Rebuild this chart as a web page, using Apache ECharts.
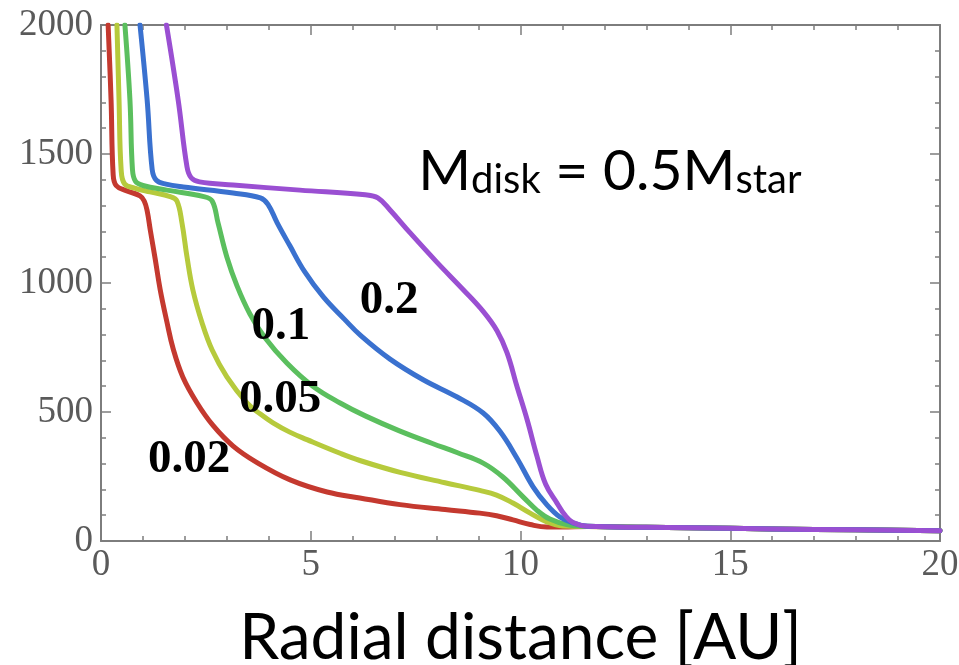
<!DOCTYPE html>
<html>
<head>
<meta charset="utf-8">
<script src="https://cdn.jsdelivr.net/npm/echarts@6/dist/echarts.min.js"></script>
<style>
html,body{margin:0;padding:0;background:#fff;}
#chart{width:959px;height:665px;}
</style>
</head>
<body>
<div id="chart"></div>
<script>
// ---- data ----
var xTicks = [0, 5, 10, 15, 20];
var yTicks = [0, 500, 1000, 1500, 2000];

var redX = [0.17, 0.24, 0.29, 0.36, 0.60, 0.93, 1.03, 1.10, 1.18, 1.29, 1.41, 1.57, 1.72, 1.95, 2.29, 2.67, 3.15, 3.72, 4.51, 5.39, 6.17, 7.13, 8.20, 9.03, 9.43, 9.82, 10.23, 10.63, 11.0, 11.6, 13, 15, 17, 20];
var redY = [2000, 1709, 1420, 1378, 1358, 1338, 1318, 1280, 1200, 1095, 975, 850, 745, 636, 535, 448, 368, 304, 237, 190, 167, 141, 122, 108, 98, 82, 64, 54, 54, 56, 53, 49, 45, 40];

var yellowX = [0.38, 0.43, 0.48, 0.56, 0.80, 1.17, 1.65, 1.81, 1.93, 2.05, 2.19, 2.41, 2.65, 3.00, 3.48, 3.80, 4.10, 4.50, 4.91, 5.70, 6.17, 7.13, 8.20, 9.03, 9.43, 9.82, 10.23, 10.63, 11.0, 11.6, 13, 15, 17, 20];
var yellowY = [2000, 1709, 1440, 1385, 1368, 1353, 1335, 1318, 1233, 1101, 973, 845, 740, 636, 535, 492, 458, 422, 393, 340, 312, 266, 226, 196, 178, 147, 108, 74, 58, 56, 53, 49, 45, 40];

var greenX = [0.57, 0.69, 0.75, 0.82, 1.00, 1.57, 2.45, 2.65, 2.79, 3.00, 3.24, 3.55, 3.90, 4.43, 5.05, 5.70, 6.30, 7.10, 7.90, 8.50, 9.11, 9.58, 10.06, 10.40, 10.70, 11.10, 11.6, 13, 15, 17, 20];
var greenY = [2000, 1709, 1440, 1395, 1378, 1360, 1335, 1318, 1233, 1101, 990, 880, 790, 690, 600, 535, 485, 428, 378, 342, 302, 248, 171, 118, 85, 64, 57, 53, 49, 45, 40];

var blueX = [0.93, 1.10, 1.22, 1.32, 1.55, 1.96, 3.15, 3.80, 3.98, 4.20, 4.50, 4.85, 5.30, 5.80, 6.20, 6.89, 7.68, 8.49, 9.11, 9.51, 9.92, 10.30, 10.63, 10.94, 11.25, 11.6, 13, 15, 17, 20];
var blueY = [2000, 1709, 1440, 1398, 1383, 1372, 1349, 1330, 1305, 1233, 1145, 1045, 946, 860, 795, 705, 625, 558, 496, 425, 320, 210, 140, 93, 70, 57, 53, 49, 45, 40];

var purpleX = [1.56, 1.84, 2.05, 2.15, 2.35, 3.15, 4.74, 6.30, 6.60, 6.89, 7.37, 8.01, 8.63, 9.11, 9.44, 9.68, 9.92, 10.16, 10.39, 10.60, 10.87, 11.06, 11.25, 11.6, 13, 15, 17, 20];
var purpleY = [2000, 1709, 1450, 1408, 1392, 1380, 1360, 1342, 1330, 1283, 1194, 1080, 975, 890, 815, 729, 597, 469, 330, 220, 147, 100, 72, 57, 53, 49, 45, 40];

var curveLabels = ['0.02', '0.05', '0.1', '0.2'];
var curveLabelX = [2.10, 4.27, 4.29, 6.87];
var curveLabelY = [314, 547, 829, 930];

var noteX = 7.56;
var noteY = 1430;
var noteText = ['M', 'disk', ' = 0.5M', 'star'];

var xTitle = 'Radial distance [AU]';

// ---- build ----
function zip(xs, ys) { return xs.map(function (x, i) { return [x, ys[i]]; }); }

var axisColor = '#7d7d7d';
var lw = 5;

function lineSeries(name, xs, ys, color) {
  return {
    name: name, type: 'line', data: zip(xs, ys), showSymbol: false, symbol: 'none',
    smooth: 0.4, clip: true,
    lineStyle: { color: color, width: lw, cap: 'round', join: 'round' },
    z: 3
  };
}

var chart = echarts.init(document.getElementById('chart'), null, { renderer: 'canvas' });

var baseX = {
  type: 'value', min: xTicks[0], max: xTicks[xTicks.length - 1], interval: 5,
  splitLine: { show: false },
  axisLine: { show: true, onZero: false, lineStyle: { color: axisColor, width: 2 } },
  axisTick: { show: true, inside: true, length: 10, lineStyle: { color: axisColor, width: 1.5 } },
  minorTick: { show: true, splitNumber: 5, length: 5, lineStyle: { color: axisColor, width: 1.5 } }
};
var baseY = {
  type: 'value', min: yTicks[0], max: yTicks[yTicks.length - 1], interval: 500,
  splitLine: { show: false },
  axisLine: { show: true, onZero: false, lineStyle: { color: axisColor, width: 2 } },
  axisTick: { show: true, inside: true, length: 10, lineStyle: { color: axisColor, width: 1.5 } },
  minorTick: { show: true, splitNumber: 5, length: 5, lineStyle: { color: axisColor, width: 1.5 } }
};

var tickFont = { color: '#5a5a5a', fontFamily: 'Liberation Serif', fontSize: 37 };
function plain(v) { return String(v); }

var option = {
  animation: false,
  backgroundColor: '#ffffff',
  grid: { left: 101, right: 19, top: 25, bottom: 124, containLabel: false, outerBoundsMode: 'none' },
  xAxis: [
    Object.assign({}, baseX, {
      position: 'bottom',
      axisLabel: Object.assign({ show: true, margin: 6, formatter: plain }, tickFont),
      name: xTitle, nameLocation: 'middle', nameGap: 65,
      nameTextStyle: { color: '#000', fontFamily: 'Lato', fontSize: 64 }
    }),
    Object.assign({}, baseX, { position: 'top', axisLabel: { show: false } })
  ],
  yAxis: [
    Object.assign({}, baseY, {
      position: 'left',
      axisLabel: Object.assign({ show: true, margin: 8, formatter: plain }, tickFont)
    }),
    Object.assign({}, baseY, { position: 'right', axisLabel: { show: false } })
  ],
  series: [
    lineSeries('0.02', redX, redY, '#c4392f'),
    lineSeries('0.05', yellowX, yellowY, '#b6ca3c'),
    lineSeries('0.1', greenX, greenY, '#5bbf5e'),
    lineSeries('0.2', blueX, blueY, '#3a71cf'),
    lineSeries('0.5', purpleX, purpleY, '#9a4fd2'),
    {
      type: 'scatter', symbolSize: 0, silent: true, z: 5,
      itemStyle: { opacity: 1 },
      data: curveLabels.map(function (t, i) { return { value: [curveLabelX[i], curveLabelY[i]], name: t }; }),
      label: {
        show: true, position: 'inside', formatter: function (p) { return p.name; },
        color: '#000', opacity: 1, textBorderWidth: 0, fontFamily: 'Liberation Serif', fontWeight: 'bold', fontSize: 47,
        align: 'center', verticalAlign: 'middle'
      }
    },
    {
      type: 'scatter', symbolSize: 0, silent: true, z: 5,
      itemStyle: { opacity: 1 },
      data: [{ value: [noteX, noteY] }],
      label: {
        show: true, position: 'inside', align: 'left', verticalAlign: 'middle', opacity: 1,
        formatter: '{m|' + noteText[0] + '}{s|' + noteText[1] + '}{m|' + noteText[2] + '}{s|' + noteText[3] + '}',
        rich: {
          m: { fontFamily: 'Lato', fontSize: 57, color: '#000', verticalAlign: 'bottom' },
          s: { fontFamily: 'Lato', fontSize: 40, color: '#000', verticalAlign: 'bottom' }
        }
      }
    }
  ]
};
chart.setOption(option);
</script>
</body>
</html>
